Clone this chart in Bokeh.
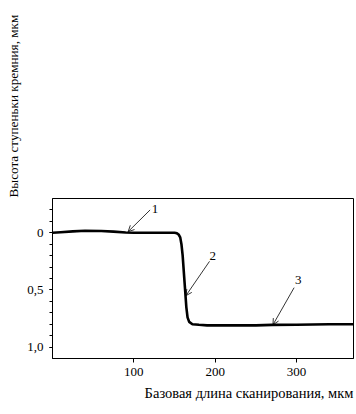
from bokeh.plotting import figure
from bokeh.models import Range1d, FixedTicker, CustomJSTickFormatter, Label, Arrow, OpenHead, Title
from bokeh.embed import file_html
from bokeh.resources import INLINE

# data
scan_x = [0, 10, 25, 40, 60, 75, 90, 100, 120, 140, 150, 153, 155, 157, 158.5,
          160, 161.5, 163, 164.5, 166, 168, 172, 180, 190, 220, 250, 270, 300, 340, 370]
step_h = [0.0, -0.005, -0.012, -0.018, -0.016, -0.01, -0.003, 0.0, 0.0, 0.0, 0.0,
          0.005, 0.015, 0.04, 0.1, 0.2, 0.35, 0.5, 0.65, 0.74, 0.78, 0.80, 0.805,
          0.81, 0.81, 0.81, 0.806, 0.805, 0.80, 0.80]
x_ticks = [100, 200, 300]
y_major = [0, 0.5, 1.0]
y_minor = [-0.2, -0.1, 0, 0.1, 0.2, 0.3, 0.4, 0.5, 0.6, 0.7, 0.8, 0.9, 1.0]
marks = ["1", "2", "3"]
mark_x = [126, 197, 302]
mark_y = [-0.21, 0.2, 0.415]
arrow_x0 = [120, 193, 297]
arrow_y0 = [-0.2, 0.25, 0.48]
arrow_x1 = [93, 164, 271]
arrow_y1 = [-0.01, 0.55, 0.805]
x_title = "Базовая длина сканирования, мкм"
y_title = "Высота ступеньки кремния, мкм"

FONT = "Liberation Serif"

p = figure(width=356, height=414, output_backend="svg", toolbar_location=None,
           x_range=Range1d(0, 370), y_range=Range1d(1.1, -0.3),
           min_border_left=52, min_border_right=3, min_border_top=198,
           min_border_bottom=56)
p.background_fill_color = "white"
p.border_fill_color = "white"
p.outline_line_color = "black"
p.outline_line_width = 1
p.xgrid.visible = False
p.ygrid.visible = False

p.line(scan_x, step_h, line_color="black", line_width=2.6)

xa = p.xaxis[0]
xa.ticker = FixedTicker(ticks=x_ticks)
xa.major_tick_out = 4
xa.major_tick_in = 0
xa.minor_tick_out = 0
xa.axis_line_color = "black"
xa.major_label_text_font = FONT
xa.major_label_text_font_size = "13px"
xa.major_label_text_color = "black"
xa.major_label_standoff = 5

ya = p.yaxis[0]
ya.ticker = FixedTicker(ticks=y_major, minor_ticks=y_minor)
ya.major_tick_out = 3
ya.major_tick_in = 0
ya.minor_tick_out = 3
ya.minor_tick_in = 0
ya.axis_line_color = "black"
ya.formatter = CustomJSTickFormatter(code="return tick == 0 ? '0' : tick.toFixed(1).replace('.', ',');")
ya.major_label_text_font = FONT
ya.major_label_text_font_size = "13px"
ya.major_label_text_color = "black"
ya.major_label_standoff = 6

for t, x, y in zip(marks, mark_x, mark_y):
    p.add_layout(Label(x=x, y=y, text=t, text_font=FONT, text_font_size="13px",
                       text_color="black", text_align="center", text_baseline="middle"))
for a, b, c, d in zip(arrow_x0, arrow_y0, arrow_x1, arrow_y1):
    p.add_layout(Arrow(x_start=a, y_start=b, x_end=c, y_end=d, line_width=0.8,
                       line_color="black",
                       end=OpenHead(size=6, line_width=0.8, line_color="black")))

p.add_layout(Title(text=x_title, align="right", offset=0, text_font=FONT,
                   text_font_size="14.5px", text_font_style="normal",
                   text_color="black", standoff=8), "below")
p.add_layout(Title(text=y_title, align="left", offset=161, text_font=FONT,
                   text_font_size="13.2px", text_font_style="normal",
                   text_color="black", vertical_align="middle", standoff=6), "left")

open("out.html", "w").write(file_html(p, INLINE))
